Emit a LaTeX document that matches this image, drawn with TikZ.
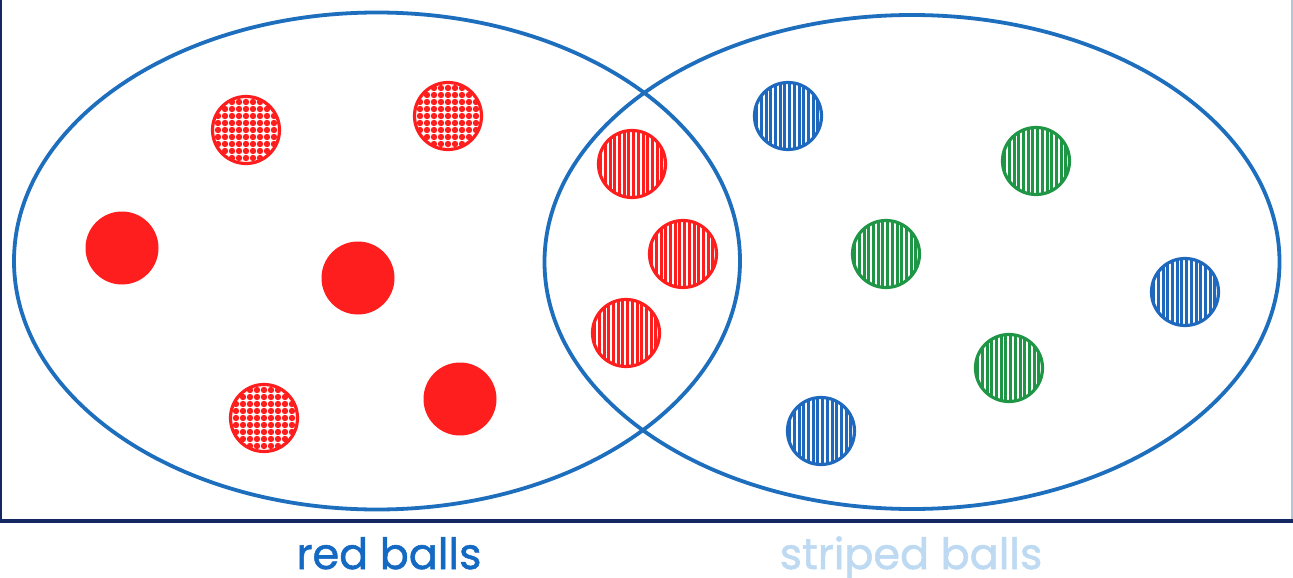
\documentclass[tikz,border=0pt]{standalone}
\usepackage{fontspec}
\setmainfont{Poppins}[FakeBold=1.2]
\usetikzlibrary{shapes.geometric}
\definecolor{ringblue}{RGB}{30,110,190}
\definecolor{ballred}{RGB}{255,30,30}
\definecolor{ballblue}{RGB}{30,105,190}
\definecolor{ballgreen}{RGB}{30,150,70}
\definecolor{navy}{RGB}{20,40,100}
\definecolor{labelblue}{RGB}{20,105,195}
\definecolor{labellight}{RGB}{190,218,242}
\tikzset{
  ring/.style={ellipse, draw=ringblue, line width=3.8pt, inner sep=0pt},
  solidball/.style={circle, fill=ballred, minimum size=73pt, inner sep=0pt},
  stripeball/.style={circle, draw=#1, line width=3.2pt, minimum size=67pt, inner sep=0pt,
    path picture={
      \foreach \i in {-36,-31.3,...,36}
        \draw[#1, line width=3pt] ([xshift=\i pt]path picture bounding box.north) -- ([xshift=\i pt]path picture bounding box.south);
    }},
  checkball/.style={circle, draw=ballred, line width=3.2pt, minimum size=67pt, inner sep=0pt,
    path picture={
      \foreach \i in {-5,...,5}
        \foreach \j in {-5,...,5}
          \fill[ballred] ([xshift=\i*7pt, yshift=\j*7pt]path picture bounding box.center) circle (3.2pt);
    }},
  label/.style={font=\fontsize{43}{48}\selectfont, inner sep=0pt, anchor=base}
}
\begin{document}
\begin{tikzpicture}[x=1pt, y=-1pt]
\useasboundingbox (0,0) rectangle (1293,578);
\fill[white] (0,0) rectangle (1293,578);
% frame
\draw[navy, line width=2pt] (1,0) -- (1,521);
\draw[navy, line width=4pt] (0,521) -- (1293,521);
\draw[labellight!80!gray, line width=1.5pt] (1292,0) -- (1292,519);
% sets
\node[ring, minimum width=726pt, minimum height=497pt] (A) at (377,261) {};
\node[ring, minimum width=735pt, minimum height=494pt] (B) at (912,262) {};
% red checker
\node[checkball] (c1) at (246,130) {};
\node[checkball] (c2) at (448,116) {};
\node[checkball] (c3) at (264,418) {};
% red solid
\node[solidball] (s1) at (122,248) {};
\node[solidball] (s2) at (358,278) {};
\node[solidball] (s3) at (460,399) {};
% red striped
\node[stripeball=ballred] (r1) at (632,164) {};
\node[stripeball=ballred] (r2) at (683,254) {};
\node[stripeball=ballred] (r3) at (626,333) {};
% blue striped
\node[stripeball=ballblue] (u1) at (788,116) {};
\node[stripeball=ballblue] (u2) at (1185,292) {};
\node[stripeball=ballblue] (u3) at (821,431) {};
% green striped
\node[stripeball=ballgreen] (g1) at (1036,161) {};
\node[stripeball=ballgreen] (g2) at (886,254) {};
\node[stripeball=ballgreen] (g3) at (1009,368) {};
% labels
\node[label, text=labelblue] (la) at (389,569) {red balls};
\node[label, text=labellight] (lb) at (911,569) {striped balls};
\end{tikzpicture}
\end{document}
